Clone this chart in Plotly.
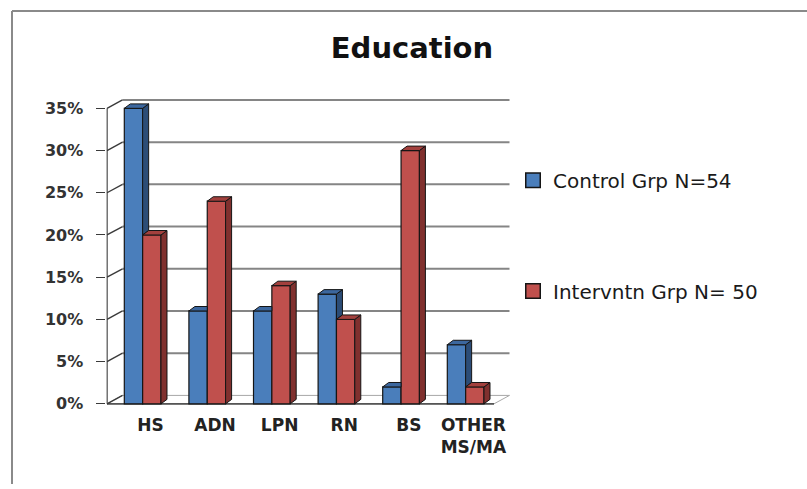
import plotly.graph_objects as go

# ---- data -------------------------------------------------------------
categories = ["HS", "ADN", "LPN", "RN", "BS", "OTHER<br>MS/MA"]
control = [35, 11, 11, 13, 2, 7]
intervention = [20, 24, 14, 10, 30, 2]
series_names = ["Control Grp N=54", "Intervntn Grp N= 50"]
y_tickvals = [0, 5, 10, 15, 20, 25, 30, 35]
y_ticktext = ["0%", "5%", "10%", "15%", "20%", "25%", "30%", "35%"]
title_text = "Education"

# ---- geometry (pixels) ------------------------------------------------
W, H = 807, 489
X0, XS = 142.65, 64.6      # pixel of category 0, pixels per category
Y0, YS = 408.0, 8.53       # pixel of 0 %, pixels per percentage point
XR = [-0.56, 5.75]
YR = [-0.5, 37.0]


def xdom(r):
    return [(X0 + r[0] * XS) / W, (X0 + r[1] * XS) / W]


def ydom(r):
    return [1 - (Y0 - r[0] * YS) / H, 1 - (Y0 - r[1] * YS) / H]


BW = 0.284                 # bar width in category units
DX, DY = 6.0 / XS, 4.5 / YS        # bar depth
WDX, WDY = 15.5 / XS, 8.5 / YS     # depth of the back wall
AX = (107 - X0) / XS               # front value axis
FX1 = (494 - X0) / XS              # right end of the floor front edge

BLUE, BLUE_SIDE, BLUE_TOP = "#4A7EBB", "#2C4D77", "#3C679E"
RED, RED_SIDE, RED_TOP = "#C0504D", "#80302E", "#A3403D"
EDGE = "#151515"

fig = go.Figure()

# ---- walls / floor (first subplot, drawn underneath) -------------------
gx, gy = [], []
for v in y_tickvals[1:]:
    gx += [AX + WDX, FX1 + WDX, None]
    gy += [v + WDY, v + WDY, None]
fig.add_trace(go.Scatter(x=gx, y=gy, mode="lines", hoverinfo="skip",
                         line=dict(color="#858585", width=2),
                         showlegend=False, xaxis="x", yaxis="y"))

# floor
fig.add_trace(go.Scatter(
    x=[AX, FX1, FX1 + WDX, AX + WDX, AX],
    y=[0, 0, WDY, WDY, 0],
    mode="lines", fill="toself", fillcolor="white", hoverinfo="skip",
    line=dict(color="#a8a8a8", width=1), showlegend=False,
    xaxis="x", yaxis="y"))
fig.add_trace(go.Scatter(x=[AX, FX1], y=[0, 0], mode="lines", hoverinfo="skip",
                         line=dict(color="#555555", width=1.8),
                         showlegend=False, xaxis="x", yaxis="y"))

# side wall diagonals and front axis line
dx_, dy_ = [], []
for v in y_tickvals:
    dx_ += [AX, AX + WDX, None]
    dy_ += [v, v + WDY, None]
dx_ += [AX, AX]
dy_ += [y_tickvals[0], y_tickvals[-1]]
fig.add_trace(go.Scatter(x=dx_, y=dy_, mode="lines", hoverinfo="skip",
                         line=dict(color="#3a3a3a", width=1.4),
                         showlegend=False, xaxis="x", yaxis="y"))

# ---- bars (second subplot) --------------------------------------------
idx = list(range(len(categories)))
fig.add_trace(go.Bar(x=idx, y=control, width=BW, offset=-BW, name=series_names[0],
                     marker=dict(color=BLUE, line=dict(color=EDGE, width=1.2)),
                     showlegend=False, xaxis="x2", yaxis="y2"))
fig.add_trace(go.Bar(x=idx, y=intervention, width=BW, offset=0, name=series_names[1],
                     marker=dict(color=RED, line=dict(color=EDGE, width=1.2)),
                     showlegend=False, xaxis="x2", yaxis="y2"))


def add_poly(polys, color):
    px, py = [], []
    for p in polys:
        px += [q[0] for q in p] + [p[0][0], None]
        py += [q[1] for q in p] + [p[0][1], None]
    fig.add_trace(go.Scatter(x=px, y=py, mode="lines", fill="toself",
                             fillcolor=color, hoverinfo="skip",
                             line=dict(color=EDGE, width=1),
                             showlegend=False, xaxis="x2", yaxis="y2"))


# side and top faces; the blue side face is only visible above the red bar
b_side, b_top, r_side, r_top = [], [], [], []
for i, b, r in zip(idx, control, intervention):
    if b > r:
        b_side.append([(i, r), (i + DX, r + DY), (i + DX, b + DY), (i, b)])
        b_top.append([(i - BW, b), (i, b), (i + DX, b + DY), (i - BW + DX, b + DY)])
    else:
        b_top.append([(i - BW, b), (i, b), (i, b + DY), (i - BW + DX, b + DY)])
    r_side.append([(i + BW, 0), (i + BW + DX, DY), (i + BW + DX, r + DY), (i + BW, r)])
    r_top.append([(i, r), (i + BW, r), (i + BW + DX, r + DY), (i + DX, r + DY)])

add_poly(b_side, BLUE_SIDE)
add_poly(b_top, BLUE_TOP)
add_poly(r_side, RED_SIDE)
add_poly(r_top, RED_TOP)

# legend entries
for name, col, lg in [(series_names[0], BLUE, "legend"), (series_names[1], RED, "legend2")]:
    fig.add_trace(go.Scatter(x=[None], y=[None], mode="markers", name=name,
                             marker=dict(symbol="square", size=14.5, color=col,
                                         line=dict(color=EDGE, width=1.5)),
                             legend=lg, xaxis="x2", yaxis="y2"))

hidden = dict(visible=False, fixedrange=True)
legend_common = dict(xanchor="left", yanchor="middle", bgcolor="rgba(0,0,0,0)",
                     borderwidth=0,
                     font=dict(family="DejaVu Sans", size=20, color="#1a1a1a"))

fig.update_layout(
    width=W, height=H,
    margin=dict(l=0, r=0, t=0, b=0),
    paper_bgcolor="white", plot_bgcolor="rgba(0,0,0,0)",
    barmode="overlay",
    title=dict(text=title_text, x=412 / W, xanchor="center",
               y=1 - 48 / H, yanchor="middle",
               font=dict(family="DejaVu Sans", size=29, color="#111111", weight="bold")),
    xaxis=dict(range=XR, domain=xdom(XR), **hidden),
    yaxis=dict(range=YR, domain=ydom(YR), **hidden),
    xaxis2=dict(range=XR, domain=xdom(XR), anchor="y2", fixedrange=True,
                showgrid=False, zeroline=False, showline=False, ticks="",
                tickvals=[i + 0.12 for i in idx], ticktext=categories,
                ticklabelstandoff=5,
                tickfont=dict(family="DejaVu Sans", size=17, color="#222222", weight="bold")),
    yaxis2=dict(range=YR, domain=ydom(YR), anchor="x2", fixedrange=True,
                showgrid=False, zeroline=False, showline=False,
                ticks="outside", ticklen=9, tickwidth=1.4, tickcolor="#3a3a3a",
                tickvals=y_tickvals, ticktext=y_ticktext, ticklabelstandoff=10,
                tickfont=dict(family="DejaVu Sans", size=16, color="#333333", weight="bold")),
    legend=dict(x=513 / W, y=1 - 182 / H, **legend_common),
    legend2=dict(x=513 / W, y=1 - 294 / H, **legend_common),
    shapes=[
        dict(type="line", xref="paper", yref="paper", x0=12 / W, x1=12 / W,
             y0=0, y1=1 - 11 / H, line=dict(color="#8a8a8a", width=2)),
        dict(type="line", xref="paper", yref="paper", x0=12 / W, x1=1,
             y0=1 - 11 / H, y1=1 - 11 / H, line=dict(color="#8a8a8a", width=2)),
    ],
)

fig.write_html("out.html")
